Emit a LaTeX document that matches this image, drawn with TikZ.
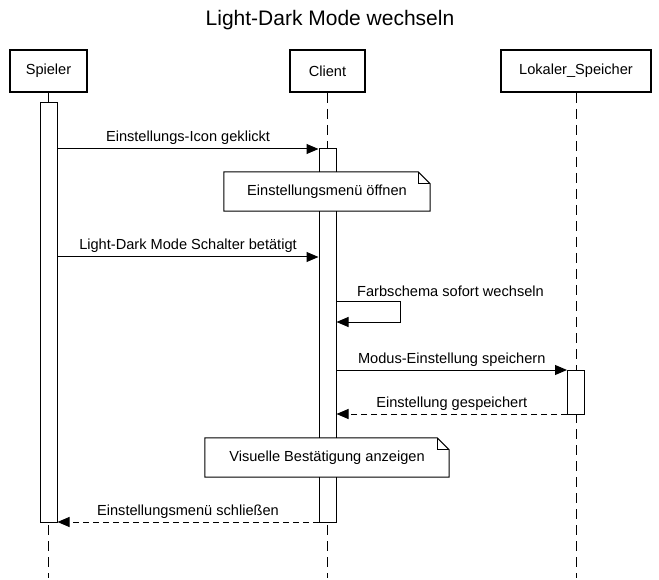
\documentclass[tikz,border=0pt]{standalone}
\usepackage{fontspec}
\setmainfont{Liberation Sans}
\usetikzlibrary{arrows.meta,calc}
\begin{document}
\begin{tikzpicture}[x=1pt,y=-1pt,
  actor/.style={draw,line width=2pt,minimum height=42pt,inner sep=0pt,font=\fontsize{14.6}{17}\selectfont},
  actbar/.style={draw,fill=white,line width=1pt,minimum width=17pt,inner sep=0pt},
  life/.style={dash pattern=on 10pt off 6pt,line width=1pt},
  msg/.style={-{Triangle[length=12pt,width=10pt]},line width=1pt},
  ret/.style={msg,dash pattern=on 6pt off 4pt},
  lbl/.style={font=\fontsize{14.6}{17}\selectfont,inner sep=0pt,anchor=base},
  notebox/.style={fill=white,minimum height=39pt,inner sep=0pt,font=\fontsize{14.6}{17}\selectfont},
  noteline/.style={line width=1pt}
]
\useasboundingbox (0,0) rectangle (659,580);
\node[font=\fontsize{21}{25}\selectfont] (title) at (330,20) {Light-Dark Mode wechseln};

% participants
\node[actor,minimum width=77pt] (sp) at (48.5,71) {Spieler};
\node[actor,minimum width=75pt] (cl) at (327.5,71) {Client};
\node[actor,minimum width=150pt] (ls) at (576,71) {Lokaler\_Speicher};

% lifelines
\coordinate (spend) at (48.5,578);
\coordinate (clend) at (327.5,578);
\coordinate (lsend) at (576,578);
\draw[life] (sp.south) -- (spend);
\draw[life] (cl.south) -- (clend);
\draw[life] (ls.south) -- (lsend);

% activation bars
\node[actbar,minimum height=419pt] (spact) at (48.5,312.5) {};
\node[actbar,minimum height=373pt] (clact) at (327.5,335.5) {};
\node[actbar,minimum height=44pt] (lsact) at (576,392) {};

% messages
\draw[msg] (spact.east |- 0,149) -- node[lbl,yshift=7pt]{Einstellungs-Icon geklickt} (clact.west |- 0,149);

\node[notebox,minimum width=206pt] (n1) at (327,191.5) {Einstellungsmenü öffnen};
\draw[noteline] (n1.south west) -- (n1.north west) -- ($(n1.north east)+(-12,0)$) -- ($(n1.north east)+(0,12)$) -- (n1.south east) -- cycle;
\draw[noteline] ($(n1.north east)+(-12,0)$) -- ($(n1.north east)+(-12,12)$) -- ($(n1.north east)+(0,12)$);

\draw[msg] (spact.east |- 0,257) -- node[lbl,yshift=7pt]{Light-Dark Mode Schalter betätigt} (clact.west |- 0,257);

\coordinate (selfA) at (400,302);
\coordinate (selfB) at (400,322);
\draw[msg] (clact.east |- 0,302) -- (selfA) -- (selfB) -- (clact.east |- 0,322);
\node[lbl,anchor=base west] (selflbl) at (357,297) {Farbschema sofort wechseln};

\draw[msg] (clact.east |- 0,370) -- node[lbl,yshift=7pt]{Modus-Einstellung speichern} (lsact.west |- 0,370);
\draw[ret] (lsact.west |- 0,414) -- node[lbl,yshift=7pt]{Einstellung gespeichert} (clact.east |- 0,414);

\node[notebox,minimum width=244pt] (n2) at (327,457.5) {Visuelle Bestätigung anzeigen};
\draw[noteline] (n2.south west) -- (n2.north west) -- ($(n2.north east)+(-12,0)$) -- ($(n2.north east)+(0,12)$) -- (n2.south east) -- cycle;
\draw[noteline] ($(n2.north east)+(-12,0)$) -- ($(n2.north east)+(-12,12)$) -- ($(n2.north east)+(0,12)$);

\draw[ret] (clact.west |- 0,522) -- node[lbl,yshift=7pt]{Einstellungsmenü schließen} (spact.east |- 0,522);
\end{tikzpicture}
\end{document}
